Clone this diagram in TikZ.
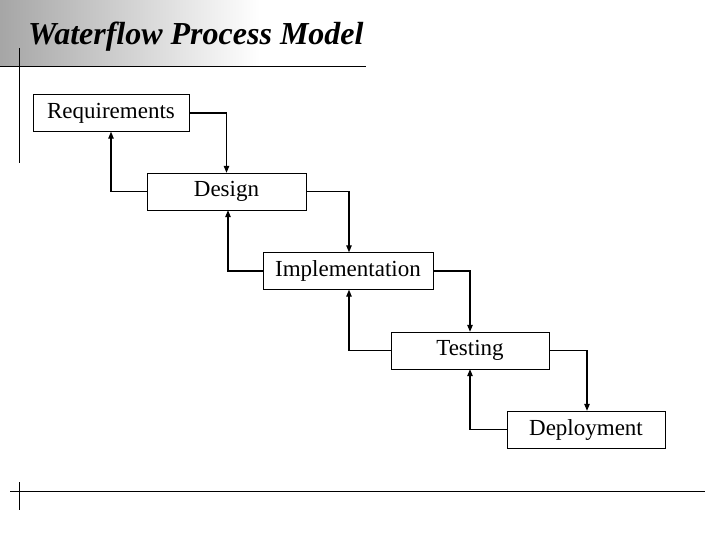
\documentclass[tikz,border=0pt]{standalone}
\usepackage{fontspec}
\setmainfont{Liberation Serif}
\usetikzlibrary{arrows.meta}
\begin{document}
\begin{tikzpicture}[x=1pt,y=-1pt,
  stage/.style={draw,thin,minimum height=37pt,inner sep=0pt,font=\fontsize{23}{26}\selectfont},
  link/.style={line width=1.2pt,-{Triangle[length=7pt,width=5.5pt]}}]
\useasboundingbox (0,0) rectangle (720,540);
\shade[left color=black!35,right color=white] (0,0) rectangle (260,66);
\node[anchor=base west,inner sep=0pt,font=\fontsize{32}{36}\selectfont\bfseries\itshape] (title) at (28,45) {Waterflow Process Model};
\draw (0,66) -- (366,66);
\draw (19,48) -- (19,163);
\draw (10,491) -- (705,491);
\draw (19,482) -- (19,510);
\node[stage,minimum width=156pt] (req) at (111,113) {Requirements};
\node[stage,minimum width=159pt] (des) at (226.5,191.5) {Design};
\node[stage,minimum width=170pt] (imp) at (348,271) {Implementation};
\node[stage,minimum width=158pt] (tes) at (470,350.5) {Testing};
\node[stage,minimum width=158pt] (dep) at (586,429.5) {Deployment};
\draw[link] (req.east) -| (des.north);
\draw[link] (des.east) -| ([xshift=1pt]imp.north);
\draw[link] (imp.east) -| (tes.north);
\draw[link] (tes.east) -| ([xshift=1pt]dep.north);
\draw[link] (des.west) -| (req.south);
\draw[link] (imp.west) -| ([xshift=1.5pt]des.south);
\draw[link] (tes.west) -| ([xshift=1pt]imp.south);
\draw[link] (dep.west) -| (tes.south);
\end{tikzpicture}
\end{document}
